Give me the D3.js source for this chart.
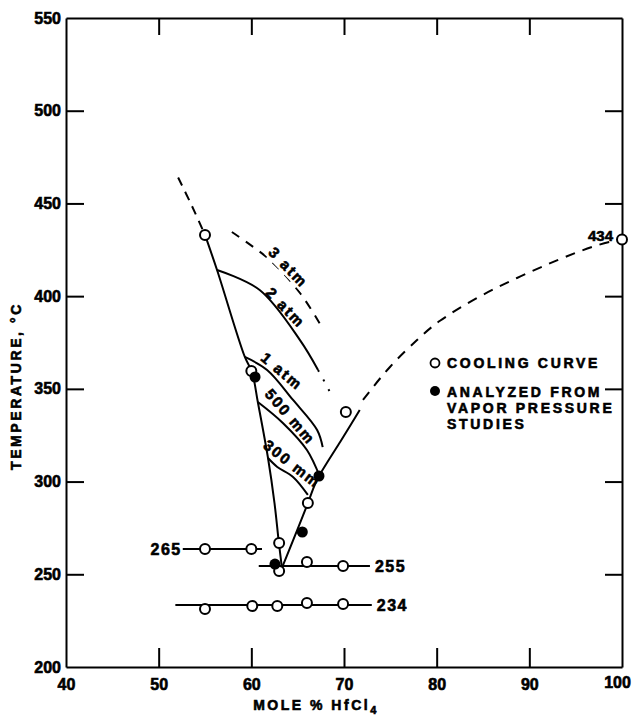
<!doctype html>
<html>
<head>
<meta charset="UTF-8" />
<script src="https://d3js.org/d3.v7.min.js"></script>
<style>
	body { margin: 0; background: #fff; }
	text { font-family: "Liberation Sans", Arial, sans-serif; font-weight: bold; fill: #000; stroke: #000; stroke-width: 0.6px; }
</style>
</head>
<body>
<svg id="chart" width="633" height="715"></svg>
<script>
"use strict";

// ---- data (x = mole % HfCl4, y = temperature °C) ----
const xTicks = [40, 50, 60, 70, 80, 90, 100];
const yTicks = [200, 250, 300, 350, 400, 450, 500, 550];

const coolingPts = [
	[55, 433], [60, 359.6], [70.2, 337.5], [66.1, 288.4], [63, 266.9],
	[63, 251.8], [66, 256.6], [69.9, 254.5],
	[55, 263.6], [60, 263.6],
	[55, 231.3], [60.1, 232.9], [62.8, 232.9], [66, 234.5], [69.9, 234],
	[100, 430.5]
];
const vaporPts = [[60.4, 356.4], [67.3, 303], [65.5, 272.8], [62.55, 255.5]];

const leftLiquidus = [[55, 433], [56.3, 414.1], [59.3, 367.2], [60.07, 359.1], [60.7, 342.9],
	[61.8, 312.7], [62.5, 288.4], [62.95, 268], [63.3, 253.4]];
const leftDashed = [[52.1, 464], [53.6, 448.5], [55, 433]];
const rightLiquidus = [[63.3, 253.4], [66.1, 288.4], [67.3, 303], [69.6, 321.5], [71.7, 338.6]];
const rightDashed = [[72.05, 344], [74.96, 361.8], [77.88, 376.3], [80.36, 386.7], [84.35, 399],
	[88.67, 409.8], [92.98, 419.3], [96.87, 426.7], [99.6, 430.4]];

const atm3 = [[57.9, 434.6], [62, 419.5], [65.25, 401.7], [67.6, 383.4]];
const atm2 = [[56.3, 414.1], [60.9, 403.3], [65.25, 376.3], [67.2, 360.2]];
const atm2Dotted = [[67.2, 360.2], [68.2, 351], [68.8, 345.1]];
const atm1 = [[59.3, 367.2], [61.7, 360.2], [64.5, 344], [67.1, 327.8], [67.7, 318.6]];
const mm500 = [[60.7, 342.9], [63.4, 331.6], [66, 317], [67.4, 302.5]];
const mm300 = [[61.8, 312.7], [62.8, 307.9], [64.5, 302.5], [66.1, 292.8]];

// eutectic / transition lines: [x0, x1, T, label]
const isotherms = [[52.6, 61.15, 263.6, "265"], [60.8, 72.8, 254.5, "255"], [51.8, 73.0, 233.4, "234"]];

// curve labels: [x, T, angle, text, halo]
const curveLabels = [
	[64.0, 415.5, 46, "3 atm", true],
	[63.7, 393.8, 46, "2 atm", false],
	[63.3, 359.5, 40, "1 atm", false],
	[64.2, 335.0, 49, "500 mm", false],
	[64.4, 309.5, 38, "300 mm", false]
];

// ---- layout ----
const svg = d3.select("#chart");
const margin = {top: 18, right: 11, bottom: 48, left: 66};
const width = 633 - margin.left - margin.right;
const height = 715 - margin.top - margin.bottom;

const x = d3.scaleLinear().domain([40, 100]).range([0, width]);
const y = d3.scaleLinear().domain([200, 550]).range([height, 0]);

const g = svg.append("g").attr("transform", "translate(" + margin.left + "," + margin.top + ")");

// axes, ticks pointing inward
const axisStyle = function(sel){
	sel.select(".domain").attr("stroke", "#000").attr("stroke-width", 2);
	sel.selectAll(".tick line").attr("stroke", "#000").attr("stroke-width", 2);
	sel.selectAll("text").style("font-size", "16px").style("font-family", "'Liberation Sans', Arial, sans-serif")
		.style("font-weight", "bold").attr("fill", "#000");
};

g.append("g").attr("transform", "translate(0," + height + ")")
	.call(d3.axisBottom(x).tickValues(xTicks).tickSizeInner(-19).tickSizeOuter(0).tickPadding(12))
	.call(axisStyle)
	.call(function(s){
		s.selectAll(".tick line").filter(function(d){ return d === 40 || d === 100; }).remove();
		s.selectAll(".tick text").filter(function(d){ return d === 100; }).attr("dx", -5).attr("dy", "0.55em");
	});

g.append("g")
	.call(d3.axisLeft(y).tickValues(yTicks).tickSizeInner(-18).tickSizeOuter(0).tickPadding(5))
	.call(axisStyle)
	.call(function(s){ s.selectAll(".tick line").filter(function(d){ return d === 200 || d === 550; }).remove(); });

g.append("g")
	.call(d3.axisTop(x).tickValues([50, 60, 70, 80, 90]).tickSizeInner(-17).tickSizeOuter(0).tickFormat(""))
	.call(axisStyle);

g.append("g").attr("transform", "translate(" + width + ",0)")
	.call(d3.axisRight(y).tickValues([250, 300, 350, 400, 450, 500]).tickSizeInner(-17).tickSizeOuter(0).tickFormat(""))
	.call(axisStyle);

// axis titles
const xTitle = svg.append("text")
	.attr("x", 316).attr("y", 710)
	.attr("text-anchor", "middle")
	.style("font-size", "14px").style("letter-spacing", "2.5px");
xTitle.append("tspan").text("MOLE % HfCl");
xTitle.append("tspan").attr("dy", 4).style("font-size", "11px").text("4");

svg.append("text")
	.attr("transform", "translate(21,386) rotate(-90)")
	.attr("text-anchor", "middle")
	.style("font-size", "14px").style("letter-spacing", "2.6px")
	.text("TEMPERATURE, °C");

// curves
const line = d3.line().x(function(d){ return x(d[0]); }).y(function(d){ return y(d[1]); })
	.curve(d3.curveCatmullRom.alpha(0.5));
const lineSmooth = d3.line().x(function(d){ return x(d[0]); }).y(function(d){ return y(d[1]); })
	.curve(d3.curveNatural);

const drawCurve = function(data, dash, gen){
	g.append("path").datum(data)
		.attr("d", gen || line)
		.attr("fill", "none")
		.attr("stroke", "#000")
		.attr("stroke-width", 2)
		.attr("stroke-dasharray", dash || null);
};

drawCurve(leftLiquidus);
drawCurve(leftDashed, "9,7");
drawCurve(rightLiquidus, null, lineSmooth);
drawCurve(rightDashed, "10,8", lineSmooth);
drawCurve(atm3, "9,8");
drawCurve(atm2);
drawCurve(atm2Dotted, "2,9");
drawCurve(atm1);
drawCurve(mm500);
drawCurve(mm300);

// isotherm lines
g.selectAll(".iso").data(isotherms).enter().append("line")
	.attr("class", "iso")
	.attr("x1", function(d){ return x(d[0]); })
	.attr("x2", function(d){ return x(d[1]); })
	.attr("y1", function(d){ return y(d[2]); })
	.attr("y2", function(d){ return y(d[2]); })
	.attr("stroke", "#000").attr("stroke-width", 2);

g.selectAll(".isoLabel").data(isotherms).enter().append("text")
	.attr("class", "isoLabel")
	.attr("x", function(d, i){ return i === 0 ? x(d[0]) - 1 : x(d[1]) + 5; })
	.attr("y", function(d){ return y(d[2]) + 6; })
	.attr("text-anchor", function(d, i){ return i === 0 ? "end" : "start"; })
	.style("font-size", "16px").style("letter-spacing", "1.5px")
	.text(function(d){ return d[3]; });

// 434 label near the HfCl4 melting point
g.append("text")
	.attr("x", x(100) - 9).attr("y", y(430.5) + 1)
	.attr("text-anchor", "end")
	.style("font-size", "15px")
	.text("434");

// curve labels
const cl = g.selectAll(".curveLabel").data(curveLabels).enter().append("g")
	.attr("class", "curveLabel")
	.attr("transform", function(d){ return "translate(" + x(d[0]) + "," + y(d[1]) + ") rotate(" + d[2] + ")"; });
cl.filter(function(d){ return d[4]; }).append("rect")
	.attr("x", -26).attr("y", -8).attr("width", 52).attr("height", 16).attr("fill", "#fff");
cl.append("text")
	.attr("text-anchor", "middle")
	.attr("dy", "0.35em")
	.style("font-size", "15px").style("letter-spacing", "2px")
	.text(function(d){ return d[3]; });

// points
g.selectAll(".open").data(coolingPts).enter().append("circle")
	.attr("class", "open")
	.attr("cx", function(d){ return x(d[0]); })
	.attr("cy", function(d){ return y(d[1]); })
	.attr("r", 5)
	.attr("fill", "#fff").attr("stroke", "#000").attr("stroke-width", 2);

g.selectAll(".filled").data(vaporPts).enter().append("circle")
	.attr("class", "filled")
	.attr("cx", function(d){ return x(d[0]); })
	.attr("cy", function(d){ return y(d[1]); })
	.attr("r", 5.5)
	.attr("fill", "#000");

// legend
const legend = svg.append("g").attr("transform", "translate(435,0)");
legend.append("circle").attr("cx", 0).attr("cy", 363).attr("r", 4.5)
	.attr("fill", "#fff").attr("stroke", "#000").attr("stroke-width", 1.8);
legend.append("circle").attr("cx", 0).attr("cy", 391).attr("r", 5).attr("fill", "#000");
legend.append("text").attr("x", 12).attr("y", 368)
	.style("font-size", "14px").style("letter-spacing", "2.7px")
	.text("COOLING CURVE");
const lt = legend.append("text").attr("y", 397)
	.style("font-size", "14px").style("letter-spacing", "2.7px");
["ANALYZED FROM", "VAPOR PRESSURE", "STUDIES"].forEach(function(s, i){
	lt.append("tspan").attr("x", 12).attr("dy", i === 0 ? 0 : 16).text(s);
});
</script>
</body>
</html>
